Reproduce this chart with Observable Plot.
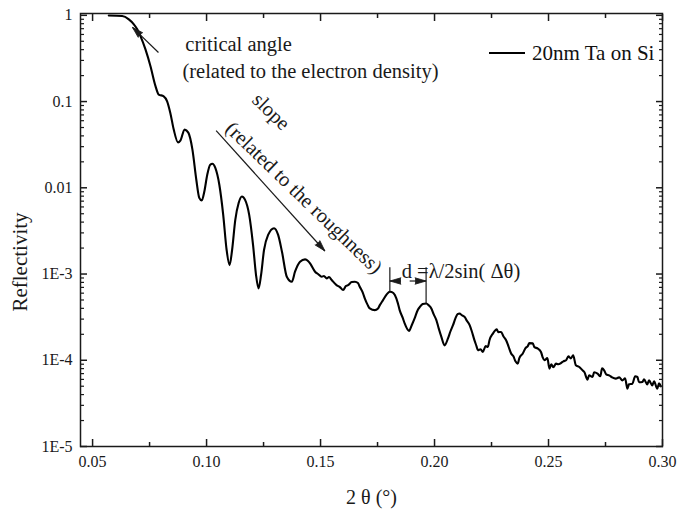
<!DOCTYPE html>
<html>
<head>
<meta charset="utf-8">
<script src="https://cdn.jsdelivr.net/npm/d3@7"></script>
<script src="https://cdn.jsdelivr.net/npm/@observablehq/plot@0.6"></script>
<style>
  body { margin: 0; background: #fff; }
  #wrap { position: relative; width: 680px; height: 510px; }
  #wrap svg, #wrap svg text { font-family: "Liberation Serif", "Times New Roman", serif; }
  #legend { position: absolute; left: 489px; top: 40px; height: 26px; display: flex; align-items: center;
            font-family: "Liberation Serif", "Times New Roman", serif; font-size: 21px; color: #111; white-space: nowrap; }
  #legend .swatch { width: 36px; height: 2px; background: #000; margin-right: 7px; }
</style>
</head>
<body>
<div id="wrap"></div>
<script>
// ---- series: 20nm Ta on Si ----
const seriesName = "20nm Ta on Si";
const twoTheta = [
  0.0571,0.0630,0.0659,0.0681,0.0696,0.0710,0.0732,0.0754,0.0776,0.0790,
  0.0812,0.0827,0.0841,0.0856,0.0875,0.0885,0.0904,0.0920,0.0938,0.0955,
  0.0968,0.0979,0.0990,0.1003,0.1016,0.1026,0.1038,0.1056,0.1073,0.1088,
  0.1101,0.1112,0.1126,0.1141,0.1155,0.1169,0.1187,0.1204,0.1217,0.1228,
  0.1239,0.1252,0.1270,0.1296,0.1314,0.1331,0.1352,0.1374,0.1388,0.1410,
  0.1432,0.1445,0.1454,0.1476,0.1489,0.1505,0.1515,0.1527,0.1537,0.1549,
  0.1570,0.1585,0.1599,0.1611,0.1621,0.1637,0.1651,0.1664,0.1672,0.1686,
  0.1694,0.1707,0.1716,0.1738,0.1752,0.1760,0.1774,0.1791,0.1804,0.1812,
  0.1826,0.1839,0.1847,0.1861,0.1869,0.1888,0.1900,0.1913,0.1926,0.1935,
  0.1948,0.1964,0.1974,0.1986,0.1996,0.2008,0.2018,0.2030,0.2044,0.2059,
  0.2070,0.2081,0.2092,0.2101,0.2110,0.2119,0.2132,0.2140,0.2154,0.2162,
  0.2175,0.2184,0.2190,0.2202,0.2212,0.2224,0.2234,0.2241,0.2256,0.2267,
  0.2273,0.2280,0.2292,0.2302,0.2314,0.2324,0.2336,0.2346,0.2355,0.2365,
  0.2372,0.2387,0.2399,0.2409,0.2416,0.2431,0.2438,0.2452,0.2467,0.2474,
  0.2482,0.2495,0.2504,0.2512,0.2521,0.2533,0.2543,0.2555,0.2565,0.2577,
  0.2587,0.2598,0.2608,0.2620,0.2635,0.2649,0.2657,0.2671,0.2678,0.2693,
  0.2700,0.2715,0.2727,0.2735,0.2744,0.2753,0.2766,0.2779,0.2795,0.2810,
  0.2824,0.2836,0.2846,0.2853,0.2868,0.2880,0.2890,0.2897,0.2912,0.2919,
  0.2933,0.2941,0.2955,0.2963,0.2977,0.2985,0.2993
];
const reflectivity = [
  0.995,0.981,0.898,0.786,0.688,0.574,0.402,0.257,0.151,0.1206,
  0.1152,0.1008,0.0739,0.0473,0.0336,0.0352,0.0473,0.0436,0.0277,0.0124,
  0.00765,0.00712,0.00899,0.01416,0.0185,0.0190,0.0171,0.01084,0.00486,0.0019,
  0.00127,0.0019,0.00425,0.0067,0.00792,0.00725,0.00486,0.00217,0.000974,0.000682,
  0.000974,0.0019,0.00284,0.0034,0.00284,0.0018,0.00093,0.000814,0.001064,0.00139,
  0.00148,0.00142,0.00133,0.001064,0.001,0.00093,0.000948,0.000891,0.000923,0.000852,
  0.000745,0.000706,0.000652,0.000725,0.000745,0.000807,0.000814,0.000786,0.000712,0.000601,
  0.000522,0.000436,0.000399,0.000381,0.000399,0.000436,0.000498,0.000585,0.000622,0.000618,
  0.00057,0.00046,0.000381,0.000308,0.000267,0.000219,0.000255,0.000308,0.000381,0.000413,
  0.000448,0.000456,0.000436,0.000399,0.000343,0.000292,0.000236,0.000187,0.000149,0.000179,
  0.000217,0.000255,0.000308,0.000343,0.000349,0.000334,0.000319,0.000292,0.000255,0.000223,
  0.000171,0.000146,0.000131,0.000134,0.000125,0.000146,0.000143,0.000171,0.000204,0.000223,
  0.000228,0.000212,0.000213,0.00019,0.000171,0.000146,0.00012,0.000111,0.0000973,0.0000915,
  0.000106,0.00012,0.000138,0.000146,0.000158,0.000157,0.000142,0.000137,0.000125,0.000109,
  0.0001,0.000106,0.0000801,0.0000899,0.000083,0.0000915,0.0000899,0.000093,0.0000973,0.0001,
  0.000111,0.000105,0.000114,0.0000874,0.0000836,0.0000765,0.0000731,0.0000597,0.0000669,0.000064,
  0.0000725,0.00007,0.0000652,0.0000807,0.0000765,0.0000687,0.0000669,0.0000634,0.0000613,0.0000634,
  0.0000585,0.0000616,0.0000469,0.0000526,0.0000535,0.0000652,0.000064,0.0000555,0.000056,0.0000601,
  0.0000526,0.0000585,0.0000512,0.000057,0.0000469,0.000054,0.0000499
];

// ---- axis ticks ----
const xMajorTicks = [0.05, 0.10, 0.15, 0.20, 0.25, 0.30];
const xMinorTicks = [0.075, 0.125, 0.175, 0.225, 0.275];
const yMajorTicks = [1e-5, 1e-4, 1e-3, 1e-2, 1e-1, 1];
const yTickLabels = ["1E-5", "1E-4", "1E-3", "0.01", "0.1", "1"];
const xLabel = "2 θ (°)";
const yLabel = "Reflectivity";

// ---- annotations (data coordinates) ----
const noteTexts = [
  {text: "critical angle", x: 0.0907, y: 0.46},
  {text: "(related to the electron density)", x: 0.0894, y: 0.223},
  {text: "d =λ/2sin( Δθ)", x: 0.1856, y: 0.00108}
];
const rotatedTexts = [
  {text: "slope", x: 0.1283, y: 0.0765},
  {text: "(related to the roughness)", x: 0.1427, y: 0.00765}
];
const noteArrows = [
  {x1: 0.0789, y1: 0.371, x2: 0.0675, y2: 0.725},
  {x1: 0.1042, y1: 0.046, x2: 0.1519, y2: 0.00185},
  {x1: 0.1852, y1: 0.00083, x2: 0.1804, y2: 0.00083},
  {x1: 0.1891, y1: 0.00083, x2: 0.1963, y2: 0.00083}
];
const noteBars = [
  {x: 0.1804, y1: 0.00118, y2: 0.00062},
  {x: 0.1963, y1: 0.00118, y2: 0.00045}
];

// ---- build ----
const W = 680, H = 510, mL = 80, mR = 18, mT = 13, mB = 64;
const xDomain = [0.0447, 0.30], yDomain = [1e-5, 1.05];
const rows = twoTheta.map((x, i) => ({x, y: reflectivity[i]}));
const yMinorTicks = [];
for (let e = -5; e < 0; e++) for (let k = 2; k <= 9; k++) yMinorTicks.push(k * Math.pow(10, e));
const yLabelOf = d => yTickLabels[yMajorTicks.indexOf(d)];
const serif = '"Liberation Serif", "Times New Roman", serif';
const ink = "#1a1a1a";

// screen-space direction of each arrow (for the filled heads)
const sx = Plot.scale({x: {type: "linear", domain: xDomain, range: [mL, W - mR]}});
const sy = Plot.scale({y: {type: "log", domain: yDomain, range: [H - mB, mT]}});
const heads = noteArrows.map(a => {
  const dx = sx.apply(a.x2) - sx.apply(a.x1);
  const dy = sy.apply(a.y2) - sy.apply(a.y1);
  return {x: a.x2, y: a.y2, angle: Math.atan2(dx, -dy) * 180 / Math.PI};
});

const chart = Plot.plot({
  width: W,
  height: H,
  marginLeft: mL,
  marginRight: mR,
  marginTop: mT,
  marginBottom: mB,
  style: {fontFamily: serif, fontSize: "16px", color: ink, background: "#fff"},
  x: {type: "linear", domain: xDomain},
  y: {type: "log", domain: yDomain},
  marks: [
    Plot.line(rows, {x: "x", y: "y", stroke: "#000", strokeWidth: 2.1, curve: "monotone-x"}),
    Plot.frame({stroke: ink, strokeWidth: 1.5}),
    // bottom
    Plot.axisX({anchor: "bottom", ticks: xMajorTicks, tickSize: -7, tickFormat: () => "", label: null, strokeWidth: 1.5, stroke: ink}),
    Plot.axisX({anchor: "bottom", ticks: xMinorTicks, tickSize: -4, tickFormat: () => "", label: null, strokeWidth: 1.5, stroke: ink}),
    Plot.axisX({anchor: "bottom", ticks: xMajorTicks, tickSize: 0, tickPadding: 9, tickFormat: d3.format(".2f"), label: null, fontSize: 16, fill: ink}),
    // top
    Plot.axisX({anchor: "top", ticks: xMajorTicks, tickSize: -7, tickFormat: () => "", label: null, strokeWidth: 1.5, stroke: ink}),
    Plot.axisX({anchor: "top", ticks: xMinorTicks, tickSize: -4, tickFormat: () => "", label: null, strokeWidth: 1.5, stroke: ink}),
    // left
    Plot.axisY({anchor: "left", ticks: yMajorTicks, tickSize: -7, tickFormat: () => "", label: null, strokeWidth: 1.5, stroke: ink}),
    Plot.axisY({anchor: "left", ticks: yMinorTicks, tickSize: -4, tickFormat: () => "", label: null, strokeWidth: 1.2, stroke: ink}),
    Plot.axisY({anchor: "left", ticks: yMajorTicks, tickSize: 0, tickPadding: 8, tickFormat: yLabelOf, label: null, fontSize: 16, fill: ink}),
    // right
    Plot.axisY({anchor: "right", ticks: yMajorTicks, tickSize: -7, tickFormat: () => "", label: null, strokeWidth: 1.5, stroke: ink}),
    Plot.axisY({anchor: "right", ticks: yMinorTicks, tickSize: -4, tickFormat: () => "", label: null, strokeWidth: 1.2, stroke: ink}),
    // axis titles
    Plot.text([yLabel], {text: d => d, frameAnchor: "left", textAnchor: "middle", lineAnchor: "middle", dx: -60, dy: 32, rotate: -90, fontSize: 21, fill: ink}),
    Plot.text([xLabel], {text: d => d, frameAnchor: "bottom", textAnchor: "middle", lineAnchor: "middle", dy: 51, fontSize: 20, fill: ink}),
    // annotations
    Plot.text(noteTexts, {x: "x", y: "y", text: "text", textAnchor: "start", fontSize: 20.5, fill: ink}),
    Plot.text(rotatedTexts, {x: "x", y: "y", text: "text", rotate: 44, fontSize: 20.5, fill: ink}),
    Plot.link(noteArrows, {x1: "x1", y1: "y1", x2: "x2", y2: "y2", stroke: ink, strokeWidth: 1.2}),
    Plot.vector(heads, {x: "x", y: "y", rotate: "angle", length: 11, r: 3.2, shape: "spike", anchor: "end", fill: ink, stroke: ink, strokeWidth: 0.8}),
    Plot.ruleX(noteBars, {x: "x", y1: "y1", y2: "y2", stroke: ink, strokeWidth: 1.2})
  ]
});

const wrap = document.getElementById("wrap");
wrap.appendChild(chart);
const legend = document.createElement("div");
legend.id = "legend";
legend.innerHTML = '<div class="swatch"></div><span></span>';
legend.querySelector("span").textContent = seriesName;
wrap.appendChild(legend);
</script>
</body>
</html>
